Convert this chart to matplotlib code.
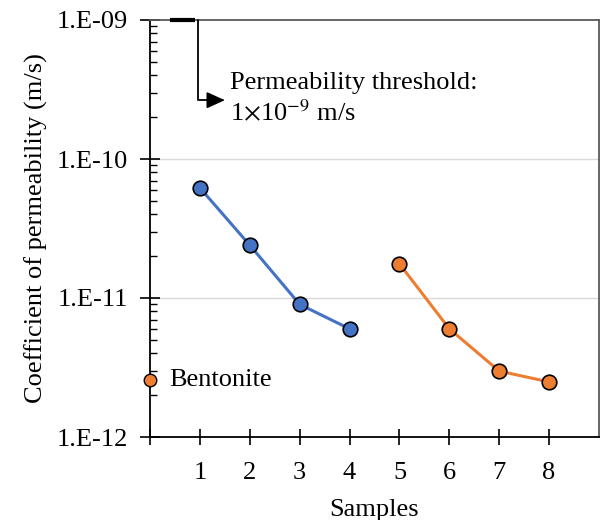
import numpy as np
import matplotlib
matplotlib.use("Agg")
import matplotlib.pyplot as plt
from matplotlib.ticker import LogLocator, NullFormatter, FixedLocator

plt.rcParams['font.family'] = ['Liberation Serif', 'DejaVu Serif']
plt.rcParams['mathtext.fontset'] = 'stix'

# data
samples_a = [1, 2, 3, 4]
perm_a = [6.2e-11, 2.4e-11, 9.0e-12, 6.0e-12]
samples_b = [5, 6, 7, 8]
perm_b = [1.76e-11, 6.0e-12, 2.98e-12, 2.49e-12]
bentonite_x = 0
bentonite_k = 2.57e-12
threshold = 1e-9
ytick_vals = [1e-12, 1e-11, 1e-10, 1e-9]
ytick_labels = ["1.E-12", "1.E-11", "1.E-10", "1.E-09"]
xtick_vals = [0, 1, 2, 3, 4, 5, 6, 7, 8]
xtick_labels = ["", "1", "2", "3", "4", "5", "6", "7", "8"]

blue = "#4472C4"
orange = "#ED7D31"
fs = 19

fig = plt.figure(figsize=(6.01, 5.2), dpi=100)
ax = fig.add_axes([150 / 601, 1 - 437 / 520, 449 / 601, 417 / 520])

ax.set_yscale("log")
ax.set_ylim(1e-12, 1e-9)
ax.set_xlim(0, 9)

for y in [1e-11, 1e-10]:
    ax.axhline(y, color="#d9d9d9", lw=1, zorder=0)

ax.plot(samples_a, perm_a, color=blue, lw=2.2, marker="o", ms=10.5,
        mfc=blue, mec="black", mew=1.2, zorder=3)
ax.plot(samples_b, perm_b, color=orange, lw=2.2, marker="o", ms=10.5,
        mfc=orange, mec="black", mew=1.2, zorder=3)

# bentonite marker on the axis
ax.plot([bentonite_x], [bentonite_k], marker="o", ms=9, mfc=orange,
        mec="black", mew=1.0, clip_on=False, zorder=5)
ax.text(0.38, bentonite_k, "Bentonite", fontsize=fs, va="center", ha="left")

# threshold marker and arrow
ax.plot([0.4, 0.9], [threshold, threshold], color="black", lw=3,
        clip_on=False, zorder=5, solid_capstyle="butt")
ax.annotate("", xy=(1.5, 2.65e-10), xytext=(0.96, threshold),
            arrowprops=dict(arrowstyle="-|>,head_length=1.1,head_width=0.5",
                            color="#404040", lw=1.3, fc="black", ec="black",
                            connectionstyle="angle,angleA=90,angleB=0,rad=0",
                            shrinkA=0, shrinkB=0))
ax.text(1.6, 3.5e-10, "Permeability threshold:", fontsize=fs,
        va="center", ha="left")
ax.text(1.6, 2.14e-10, r"1$\times$10$^{-9}$ m/s", fontsize=fs,
        va="center", ha="left")

ax.yaxis.set_major_locator(FixedLocator(ytick_vals))
ax.set_yticklabels(ytick_labels)
ax.yaxis.set_minor_locator(LogLocator(base=10, subs=np.arange(2, 10)))
ax.yaxis.set_minor_formatter(NullFormatter())
ax.set_xticks(xtick_vals)
ax.set_xticklabels(xtick_labels)

ax.tick_params(axis="y", which="major", direction="inout", length=14,
               width=1.2, labelsize=fs, pad=9)
ax.tick_params(axis="y", which="minor", direction="in", length=5, width=1)
ax.tick_params(axis="x", which="major", direction="inout", length=12,
               width=1.2, labelsize=fs, pad=12)

for s in ["left", "bottom"]:
    ax.spines[s].set_color("black")
    ax.spines[s].set_linewidth(1.3)
for s in ["top", "right"]:
    ax.spines[s].set_color("#595959")
    ax.spines[s].set_linewidth(1.3)

ax.set_xlabel("Samples", fontsize=fs, labelpad=11)
ax.set_ylabel("Coefficient of permeability (m/s)", fontsize=fs, labelpad=6)

fig.savefig("out.png", dpi=100)
